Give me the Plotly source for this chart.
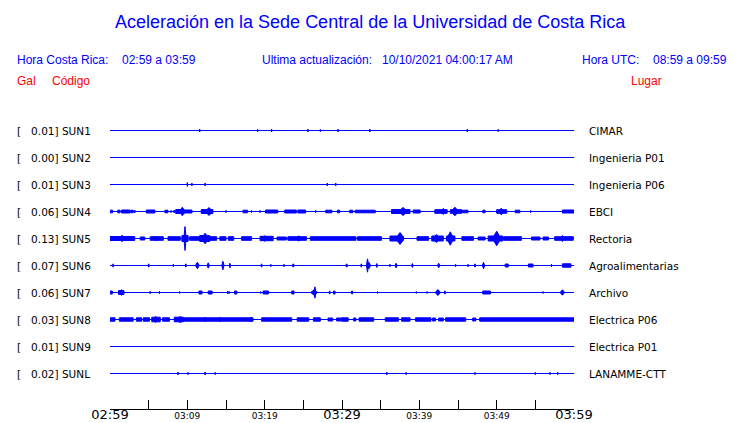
import plotly.graph_objects as go

# ---------------- data ----------------
TITLE = "Aceleración en la Sede Central de la Universidad de Costa Rica"
CODES = ["SUN1", "SUN2", "SUN3", "SUN4", "SUN5", "SUN6", "SUN7", "SUN8", "SUN9", "SUNL"]
PLACES = ["CIMAR", "Ingenieria P01", "Ingenieria P06", "EBCI", "Rectoria",
          "Agroalimentarias", "Archivo", "Electrica P06", "Electrica P01", "LANAMME-CTT"]
GAL = [0.01, 0.00, 0.01, 0.06, 0.13, 0.07, 0.06, 0.03, 0.01, 0.02]

TICK_MINUTES = [0, 5, 10, 15, 20, 25, 30, 35, 40, 45, 50, 55, 60]
TICK_LABELS = ["02:59", "", "03:09", "", "03:19", "", "03:29", "", "03:39", "", "03:49", "", "03:59"]
MAJOR_LABELS = ["02:59", "03:29", "03:59"]
TRACE_END = 60.1

# noisy bands: [start_min, end_min, half_amplitude]
BANDS_SUN1 = []
BANDS_SUN2 = []
BANDS_SUN3 = []
BANDS_SUN4 = [[0.0, 0.35, 1.3], [1.0, 1.3, 1.3], [1.5, 2.6, 1.5], [2.7, 3.0, 1.3], [4.7, 5.8, 1.5],
              [7.1, 7.5, 1.3], [8.5, 9.6, 2.0], [9.7, 10.6, 1.5], [11.8, 13.3, 2.0], [17.2, 17.8, 1.3],
              [20.1, 21.7, 1.5], [22.6, 24.1, 1.5], [24.3, 25.3, 1.5], [27.9, 28.7, 1.3], [29.4, 29.7, 1.3],
              [31.0, 31.4, 1.3], [31.7, 34.3, 1.3], [36.4, 38.8, 2.0], [39.2, 40.1, 1.5], [42.0, 43.6, 1.8],
              [44.0, 45.5, 1.8], [45.6, 46.3, 1.3], [48.2, 48.5, 1.3], [50.0, 51.3, 1.8], [52.4, 53.0, 1.3],
              [58.5, 60.1, 1.5]]
BANDS_SUN5 = [[0.0, 3.2, 2.0], [3.9, 4.5, 1.5], [5.2, 6.9, 1.8], [7.5, 9.1, 1.8], [9.3, 10.1, 3.0],
              [10.3, 11.6, 1.8], [11.6, 12.9, 3.0], [12.9, 13.8, 1.8], [14.2, 15.0, 1.8], [15.3, 16.0, 1.8],
              [17.0, 18.3, 1.8], [19.4, 21.1, 2.2], [21.6, 22.8, 1.5], [23.0, 25.4, 1.8], [25.9, 31.8, 1.8],
              [32.0, 35.1, 1.8], [36.2, 37.9, 2.5], [39.7, 41.2, 1.8], [41.6, 43.1, 2.5], [43.5, 44.6, 2.5],
              [45.5, 47.0, 1.8], [47.6, 48.5, 1.5], [48.9, 50.8, 2.5], [50.9, 53.2, 1.8], [54.5, 55.6, 1.5],
              [56.0, 56.7, 1.5], [57.5, 59.9, 1.8]]
BANDS_SUN6 = [[51.1, 51.5, 1.5], [54.1, 54.7, 1.5], [58.5, 59.6, 1.7]]
BANDS_SUN7 = [[0.0, 0.3, 1.5], [1.1, 1.8, 2.0], [11.5, 11.9, 1.5], [12.7, 13.2, 1.5], [16.1, 16.4, 1.5],
              [19.8, 20.5, 1.5], [23.5, 23.8, 1.5], [28.9, 29.1, 1.5], [48.2, 49.2, 1.5]]
BANDS_SUN8 = [[0.0, 0.65, 1.7], [1.2, 3.0, 1.7], [3.4, 4.1, 1.7], [4.3, 5.1, 1.7], [5.4, 6.5, 2.3],
              [6.8, 7.7, 1.7], [8.3, 9.5, 2.3], [9.5, 18.5, 1.7], [19.6, 23.5, 1.7], [24.2, 25.7, 1.7],
              [26.3, 27.2, 1.7], [28.2, 28.8, 1.5], [29.3, 29.8, 1.5], [29.9, 30.8, 1.7], [31.5, 31.8, 1.5],
              [32.2, 34.1, 1.7], [35.6, 37.3, 1.7], [37.7, 38.8, 1.7], [39.5, 41.5, 1.7], [41.7, 42.1, 1.5],
              [42.5, 43.1, 1.5], [43.4, 46.0, 1.7], [46.9, 47.3, 1.5], [47.8, 60.1, 1.7]]
BANDS_SUN9 = []
BANDS_SUNL = []

# bursts: [peak_min, half_amplitude, duration_min]
BURSTS_SUN1 = [[11.6, 1.5, 0.1], [19.1, 1.2, 0.1], [20.9, 1.5, 0.1], [25.6, 1.5, 0.1], [27.2, 1.2, 0.1],
               [29.5, 1.5, 0.1], [33.6, 1.5, 0.1], [46.2, 1.5, 0.1], [50.2, 1.2, 0.1]]
BURSTS_SUN2 = []
BURSTS_SUN3 = [[10.0, 2.0, 0.1], [10.6, 1.5, 0.1], [12.3, 1.5, 0.1], [28.1, 1.5, 0.1], [29.2, 1.5, 0.1]]
BURSTS_SUN4 = [[3.2, 1.5, 0.1], [7.9, 1.2, 0.1], [8.3, 1.5, 0.1], [9.35, 4.3, 0.8], [12.8, 4.0, 1.0],
               [15.0, 1.2, 0.1], [18.3, 1.2, 0.1], [19.4, 1.2, 0.1], [26.6, 1.2, 0.1], [37.9, 4.0, 1.2],
               [43.1, 3.0, 0.8], [44.6, 4.3, 1.0], [50.6, 3.3, 0.8], [54.4, 1.2, 0.1]]
BURSTS_SUN5 = [[1.55, 3.3, 0.5], [5.9, 2.5, 0.4], [9.7, 12.0, 0.3], [9.75, 4.0, 0.8], [12.3, 5.3, 1.0],
               [20.0, 2.7, 1.0], [24.4, 2.7, 0.6], [37.5, 6.0, 1.1], [42.2, 4.0, 1.0], [44.0, 6.7, 0.9],
               [50.0, 7.3, 1.1], [58.5, 3.0, 0.7]]
BURSTS_SUN6 = [[0.4, 1.7, 0.15], [5.0, 1.7, 0.2], [8.2, 1.3, 0.1], [9.8, 1.7, 0.2], [11.3, 3.3, 0.5],
               [12.7, 2.7, 0.3], [14.6, 4.3, 0.3], [15.5, 2.3, 0.2], [19.6, 1.7, 0.2], [20.8, 1.3, 0.1],
               [22.5, 1.3, 0.1], [23.7, 1.7, 0.3], [30.6, 1.7, 0.3], [32.5, 1.7, 0.2], [33.3, 6.7, 0.3],
               [33.5, 3.0, 0.4], [34.5, 2.0, 0.2], [36.2, 1.3, 0.1], [37.0, 2.3, 0.3], [39.1, 2.0, 0.2],
               [42.5, 2.3, 0.3], [44.7, 1.3, 0.1], [46.3, 1.3, 0.1], [47.2, 1.7, 0.2], [48.3, 3.3, 0.3],
               [57.1, 1.3, 0.1]]
BURSTS_SUN7 = [[1.5, 2.7, 0.8], [5.2, 1.3, 0.1], [6.4, 1.3, 0.1], [9.0, 1.0, 0.1], [15.2, 1.3, 0.1],
               [15.4, 1.3, 0.1], [19.5, 1.0, 0.1], [26.5, 5.7, 0.3], [26.4, 2.7, 0.9], [28.4, 1.7, 0.2],
               [31.3, 1.7, 0.3], [34.6, 1.0, 0.1], [39.6, 1.0, 0.1], [41.0, 1.0, 0.1], [42.4, 3.0, 0.7],
               [43.3, 1.7, 0.2], [56.0, 1.0, 0.1], [58.5, 2.7, 0.6]]
BURSTS_SUN8 = [[5.9, 3.0, 0.6], [9.1, 3.3, 0.8], [12.3, 2.5, 0.3], [14.2, 2.5, 0.2], [18.2, 2.5, 0.3]]
BURSTS_SUN9 = []
BURSTS_SUNL = [[8.8, 1.5, 0.1], [10.1, 1.2, 0.1], [12.3, 1.5, 0.1], [13.6, 1.2, 0.1], [35.8, 1.5, 0.1],
               [38.3, 1.2, 0.1], [47.2, 1.2, 0.1], [55.0, 1.2, 0.1], [56.9, 1.2, 0.1], [57.9, 1.2, 0.1]]

BANDS = [BANDS_SUN1, BANDS_SUN2, BANDS_SUN3, BANDS_SUN4, BANDS_SUN5,
         BANDS_SUN6, BANDS_SUN7, BANDS_SUN8, BANDS_SUN9, BANDS_SUNL]
BURSTS = [BURSTS_SUN1, BURSTS_SUN2, BURSTS_SUN3, BURSTS_SUN4, BURSTS_SUN5,
          BURSTS_SUN6, BURSTS_SUN7, BURSTS_SUN8, BURSTS_SUN9, BURSTS_SUNL]

# ---------------- styling ----------------
W, H = 740, 423
BLUE = "#0000FF"
RED = "#FF0000"
AMP_SCALE = 1.0 / 27.0        # amplitude units -> trace spacing
X_LEFT, X_RIGHT = 110, 574     # px of plot area
AXIS_Y = 409                   # px of time axis
ROW0, ROW_STEP = 130.5, 27     # px of first trace, spacing

fig = go.Figure()

for i, code in enumerate(CODES):
    # baseline
    fig.add_trace(go.Scatter(x=[0, TRACE_END], y=[i, i], mode="lines",
                             line=dict(color=BLUE, width=1), hoverinfo="skip", showlegend=False))
    # noisy bands (clockwise rectangles)
    xs, ys = [], []
    for t0, t1, h in BANDS[i]:
        a = h * AMP_SCALE
        xs += [t0, t0, t1, t1, t0, None]
        ys += [i - a, i + a, i + a, i - a, i - a, None]
    if xs:
        fig.add_trace(go.Scatter(x=xs, y=ys, mode="lines", fill="toself", fillcolor=BLUE,
                                 line=dict(color=BLUE, width=1), hoverinfo="skip",
                                 showlegend=False, connectgaps=False))
    # bursts (spindles)
    xs, ys = [], []
    for tp, amp, dur in BURSTS[i]:
        a = amp * AMP_SCALE
        xs += [tp - dur / 2, tp, tp + dur / 2, tp, tp - dur / 2, None]
        ys += [i, i + a, i, i - a, i, None]
    if xs:
        fig.add_trace(go.Scatter(x=xs, y=ys, mode="lines", fill="toself", fillcolor=BLUE,
                                 line=dict(color=BLUE, width=1), hoverinfo="skip",
                                 showlegend=False, connectgaps=False))

# y mapping: station index -> px
y_top = -ROW0 / ROW_STEP
y_bot = (AXIS_Y - ROW0) / ROW_STEP

ticktext = []
for lab in TICK_LABELS:
    if lab == "":
        ticktext.append("")
    elif lab in MAJOR_LABELS:
        ticktext.append(lab)
    else:
        ticktext.append('<span style="font-size:9px">' + lab + "</span>")

fig.update_layout(
    width=W, height=H,
    margin=dict(l=0, r=0, t=0, b=0),
    paper_bgcolor="white", plot_bgcolor="white",
    showlegend=False,
    xaxis=dict(domain=[X_LEFT / W, X_RIGHT / W], range=[0, 60], showgrid=False, zeroline=False,
               showline=True, linecolor="black", linewidth=1,
               ticks="inside", ticklen=9, tickcolor="black", tickwidth=1,
               tickvals=TICK_MINUTES, ticktext=ticktext, ticklabelstandoff=-7,
               tickfont=dict(family="DejaVu Sans", size=13, color="black"),
               anchor="y", automargin=False),
    yaxis=dict(domain=[(H - AXIS_Y) / H, 1], range=[y_bot, y_top], visible=False,
               showgrid=False, zeroline=False, automargin=False),
)

ann = []
def text(x, y, s, color, size, family="Liberation Sans", xanchor="left", yref="paper"):
    ann.append(dict(x=x / W, y=(1 - y / H) if yref == "paper" else y, xref="paper", yref=yref,
                    text=s, showarrow=False, xanchor=xanchor, yanchor="middle",
                    font=dict(color=color, size=size, family=family)))

text(370, 22, TITLE, BLUE, 18, xanchor="center")
text(15, 60, "Hora Costa Rica:", BLUE, 12)
text(120, 60, "02:59 a 03:59", BLUE, 12)
text(260, 60, "Ultima actualización:", BLUE, 12)
text(380, 60, "10/10/2021 04:00:17 AM", BLUE, 12)
text(580, 60, "Hora UTC:", BLUE, 12)
text(651, 60, "08:59 a 09:59", BLUE, 12)
text(15, 81, "Gal", RED, 12)
text(50, 81, "Código", RED, 12)
text(629, 81, "Lugar", RED, 12)

for i, code in enumerate(CODES):
    label = "[\u00a0\u00a0\u00a0" + f"{GAL[i]:.2f}" + "] " + code
    text(15, i, label, "black", 10.5, family="DejaVu Sans", yref="y")
    text(587, i, PLACES[i], "black", 10.5, family="DejaVu Sans", yref="y")

fig.update_layout(annotations=ann)
fig.write_html("out.html", config={"displayModeBar": False},
               post_script="document.body.style.margin='0';document.body.style.overflow='hidden';")
